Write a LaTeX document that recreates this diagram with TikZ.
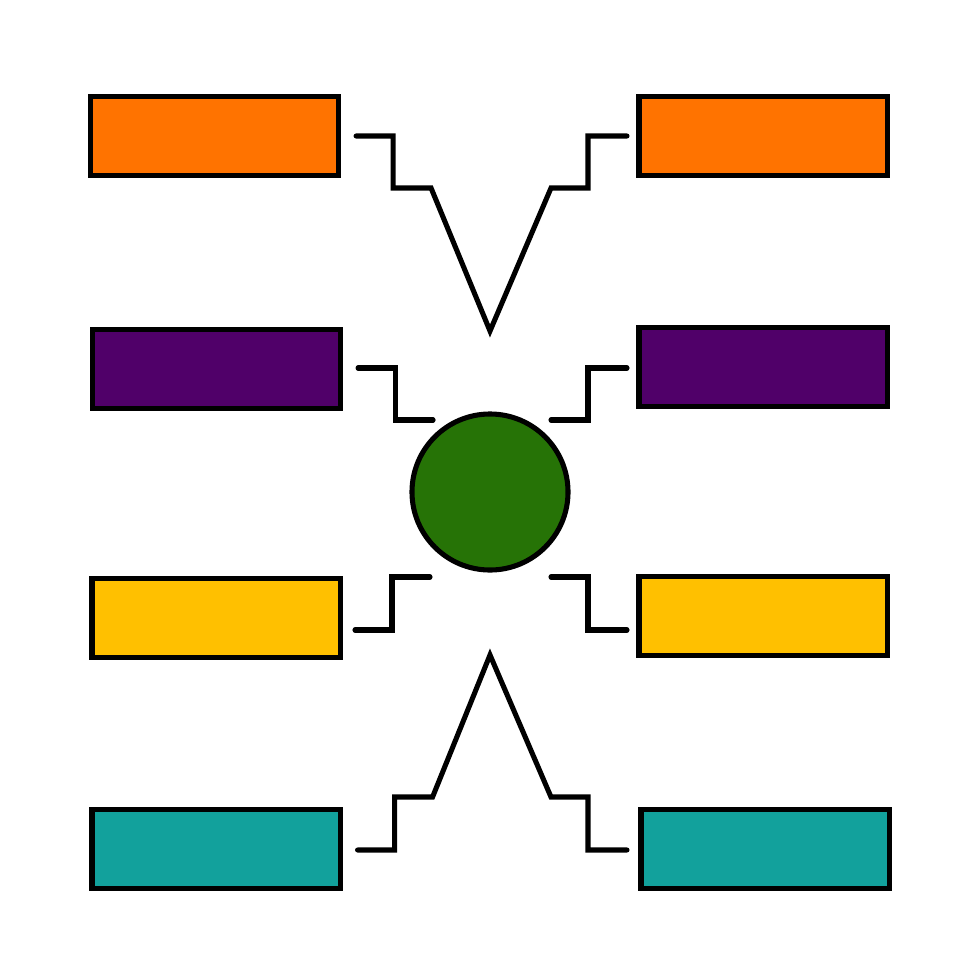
\documentclass[tikz,border=0pt]{standalone}
\usepackage{tikz}
\usetikzlibrary{positioning,calc}
\definecolor{boxorange}{RGB}{255,115,0}
\definecolor{boxpurple}{RGB}{80,0,105}
\definecolor{boxyellow}{RGB}{255,192,0}
\definecolor{boxteal}{RGB}{18,161,156}
\definecolor{hubgreen}{RGB}{38,115,6}
\tikzset{
    frame/.style={draw=none, fill=white}
}
\begin{document}
\begin{tikzpicture}[x=0.025cm, y=-0.025cm,
    block/.style={draw, rectangle, line width=3.6pt, minimum width=6.2cm, minimum height=1.98cm, inner sep=0pt},
    hubnode/.style={draw, circle, line width=3.6pt, minimum size=3.9cm, fill=hubgreen, inner sep=0pt},
    wire/.style={line width=3.6pt, line cap=round, line join=miter}]

\useasboundingbox[frame] (0,0) rectangle (980,980);

% centre
\node [hubnode] (hub) at (490,492) {};

% left column
\node [block, fill=boxorange] (orangeL) at (214.5,136) {};
\node [block, fill=boxpurple] (purpleL) at (216.5,369) {};
\node [block, fill=boxyellow] (yellowL) at (216,618) {};
\node [block, fill=boxteal] (tealL) at (216,849) {};

% right column
\node [block, fill=boxorange] (orangeR) at (763,136) {};
\node [block, fill=boxpurple] (purpleR) at (763,367) {};
\node [block, fill=boxyellow] (yellowR) at (763,616) {};
\node [block, fill=boxteal] (tealR) at (765,849) {};

% apexes of the two zigzags
\coordinate (apexTop) at (490,331);
\coordinate (apexBot) at (490,655);

% top zigzag
\draw [wire] ($(orangeL.east)+(15,0)$) -- ++(37,0) -- ++(0,52) -- ++(38,0)
    -- (apexTop) -- ++(61,-143) -- ++(37,0) -- ++(0,-52) -- ++(39,0);

% purple steps
\draw [wire] ($(purpleL.east)+(15,-1)$) -- ++(37,0) -- ++(0,52) -- ++(38,0);
\draw [wire] ($(hub)+(61,-72)$) -- ++(37,0) -- ++(0,-52) -- ++(39,0);

% yellow steps
\draw [wire] ($(hub)+(-60,85)$) -- ++(-38,0) -- ++(0,53) -- ++(-37,0);
\draw [wire] ($(hub)+(61,85)$) -- ++(37,0) -- ++(0,53) -- ++(39,0);

% bottom zigzag
\draw [wire] ($(tealL.east)+(15,1)$) -- ++(37,0) -- ++(0,-53) -- ++(38,0)
    -- (apexBot) -- ++(61,142) -- ++(37,0) -- ++(0,53) -- ++(39,0);

\end{tikzpicture}
\end{document}
